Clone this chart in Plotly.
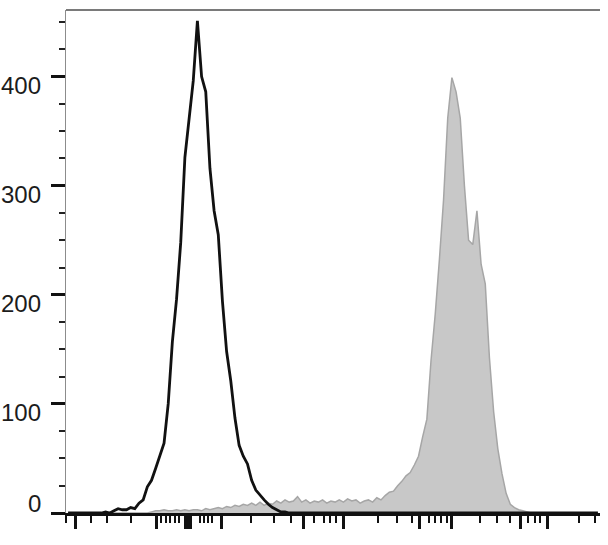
import numpy as np
import plotly.graph_objects as go

# Histogram bins: 128 bins of 8 channels on a 0-1024 display scale
bin_width = 8
n_bins = 128

# Isotype / unstained control (black outline) - counts per bin, starting at bin 0
control_counts = [
    0, 0, 0, 0, 0, 0, 0, 0, 0, 1,
    0, 2, 4, 3, 3, 5, 4, 9, 12, 24,
    30, 41, 53, 64, 100, 157, 196, 248, 326, 363,
    396, 451, 400, 386, 316, 277, 255, 194, 148, 121,
    87, 62, 52, 45, 30, 21, 16, 12, 8, 5,
    3, 1, 1,
]

# Stained sample (grey filled) - counts per bin, starting at bin 20
stained_start = 20
stained_counts = [
    1, 2, 2, 3, 2, 2, 3, 2, 3, 2,
    3, 3, 2, 4, 3, 4, 5, 4, 6, 5,
    7, 6, 8, 7, 9, 7, 10, 7, 9, 8,
    11, 9, 12, 10, 11, 15, 10, 12, 9, 11,
    10, 12, 9, 11, 10, 12, 10, 13, 11, 12,
    9, 11, 12, 10, 14, 12, 16, 19, 20, 25,
    29, 34, 37, 44, 52, 70, 86, 140, 182, 232,
    287, 362, 399, 386, 362, 300, 250, 246, 277, 228,
    210, 142, 93, 59, 36, 18, 8, 5, 3, 2,
    1,
]

# Y axis
y_ticks = [0, 100, 200, 300, 400]
y_tick_labels = ["0", "100", "200", "300", "400"]
y_max = 461

# X axis tick marks (display channels) - biexponential style, no labels
x_major_ticks = [17.7, 173.1, 229.4, 234.2, 239.0, 297.9, 455.9, 531.3,
                 678.5, 739.4, 871.7, 923.2]
x_minor_ticks = [0, 48.4, 79.1, 123.8, 182.7, 191.0, 200.0, 208.3, 216.5,
                 256.2, 264.5, 272.2, 280.6, 355.5, 398.3, 430.9, 475.6,
                 495.6, 507.1, 518.6, 598.5, 634.9, 662.6, 695.8, 707.3,
                 718.3, 729.7, 793.7, 826.9, 851.2, 886.4, 899.2, 908.8,
                 983.7, 1014.4]

centers = np.arange(n_bins) * bin_width + bin_width / 2
control = np.zeros(n_bins)
control[:len(control_counts)] = control_counts
stained = np.zeros(n_bins)
stained[stained_start:stained_start + len(stained_counts)] = stained_counts

fig = go.Figure()
fig.add_trace(go.Scatter(
    x=centers, y=stained, mode="lines", fill="tozeroy",
    fillcolor="#c8c8c8", line=dict(color="#a6a6a6", width=1.5),
    showlegend=False, hoverinfo="skip",
))
fig.add_trace(go.Scatter(
    x=centers, y=control, mode="lines",
    line=dict(color="#111111", width=2.8),
    showlegend=False, hoverinfo="skip",
))

fig.update_layout(
    width=608, height=545,
    margin=dict(l=66, r=8, t=10, b=32, autoexpand=False),
    paper_bgcolor="white", plot_bgcolor="white",
    showlegend=False,
)
fig.update_xaxes(
    range=[0, 1024], showgrid=False, zeroline=False, automargin=False,
    showline=True, linecolor="#111111", linewidth=3,
    tickmode="array", tickvals=x_major_ticks, ticks="outside",
    ticklen=13, tickwidth=3, tickcolor="#111111",
    showticklabels=False,
    minor=dict(tickmode="array", tickvals=x_minor_ticks, ticks="outside",
               ticklen=7, tickwidth=2, tickcolor="#111111"),
)
fig.update_yaxes(
    range=[0, y_max], showgrid=False, zeroline=False, automargin=False,
    showline=True, linecolor="#8c8c8c", linewidth=1,
    tickmode="array", tickvals=y_ticks, ticks="outside",
    ticklen=14, tickwidth=3, tickcolor="#111111",
    showticklabels=False,
    minor=dict(dtick=25, tick0=0, ticks="outside", ticklen=6, tickwidth=2,
               tickcolor="#222222"),
)

# Top frame line
fig.add_shape(type="line", xref="paper", yref="paper", x0=0, x1=1, y0=1, y1=1,
              line=dict(color="#7a7a7a", width=2))

# Y tick labels (offset like the original)
for v, t in zip(y_ticks, y_tick_labels):
    fig.add_annotation(
        x=0, xref="paper", y=v, yref="y", text=t, showarrow=False,
        xanchor="right", yanchor="middle", xshift=-24, borderpad=0,
        yshift=(10 if v == 0 else -9),
        font=dict(family="Arial, Liberation Sans, sans-serif", size=24,
                  color="#1c1c1c"),
    )

fig.write_html(
    "out.html",
    config={"displayModeBar": False},
    post_script="document.body.style.margin='0';document.body.style.overflow='hidden';",
)
